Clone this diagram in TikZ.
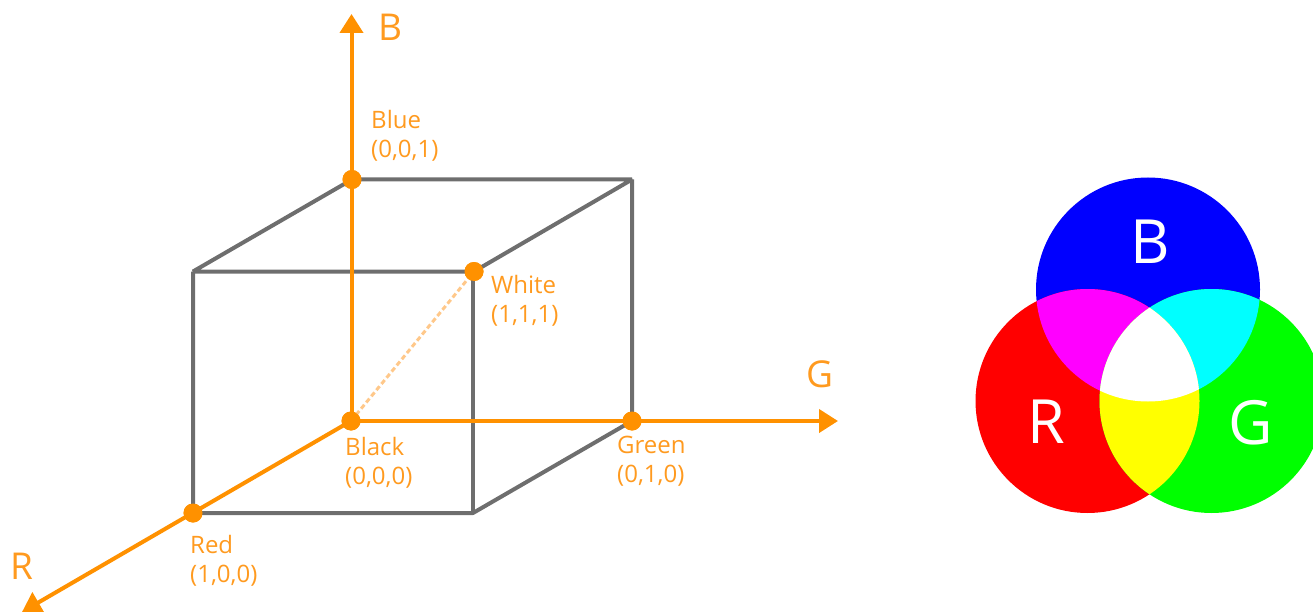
\documentclass[tikz,border=0pt]{standalone}
\usepackage{fontspec}
\setmainfont{Open Sans}
\usetikzlibrary{arrows.meta}
\definecolor{axisor}{HTML}{FF9100}
\definecolor{labelor}{HTML}{FF9A1F}
\definecolor{cubegr}{HTML}{6E6E6E}
\definecolor{diagor}{HTML}{FFC88A}
\definecolor{vblue}{RGB}{0,0,255}
\definecolor{vred}{RGB}{255,0,0}
\definecolor{vgreen}{RGB}{0,255,0}
\definecolor{vmagenta}{RGB}{255,0,255}
\definecolor{vcyan}{RGB}{0,255,255}
\definecolor{vyellow}{RGB}{255,255,0}
\tikzset{
  x=1pt,y=-1pt,
  dotpt/.style={circle,fill=axisor,inner sep=0pt,minimum size=19pt},
  cubeline/.style={draw=cubegr,line width=4pt,line cap=butt,line join=bevel},
  axisline/.style={draw=axisor,line width=4pt,-{Triangle[length=19pt,width=23pt]}},
  smalllab/.style={text=labelor,font=\fontsize{24}{29}\selectfont,align=left,anchor=north west,inner sep=0pt},
  axislab/.style={text=labelor,font=\fontsize{37}{40}\selectfont,inner sep=0pt},
  vennlab/.style={text=white,font=\fontsize{61}{66}\selectfont,inner sep=0pt},
}
\begin{document}
\begin{tikzpicture}
\useasboundingbox (0,0) rectangle (1313,612);
\clip (0,0) rectangle (1313,612);
% cube corners
\coordinate (ftl) at (193,271.5);
\coordinate (fbr) at (473,513);
\coordinate (btr) at (632,179.5);
\coordinate (bAxis) at (351.5,14);
\coordinate (gAxis) at (838,421);
\coordinate (rAxis) at (22,612);
\node[dotpt] (black) at (351,421) {};
\node[dotpt] (blue) at (352,179.5) {};
\node[dotpt] (green) at (632,421) {};
\node[dotpt] (red) at (193,513) {};
\node[dotpt] (white) at (474,271.5) {};
% cube edges
\draw[cubeline] (blue.center) -- (btr) -- (white.center) -- (ftl) -- cycle;
\draw[cubeline] (ftl) -- (red.center) -- (fbr) -- (green.center) -- (btr);
\draw[cubeline] (473,271.5) -- (fbr);
% diagonal
\draw[draw=diagor,line width=3pt,dash pattern=on 5pt off 3pt] (black.center) -- (white.center);
% axes
\draw[axisline] (351.5,421) -- (bAxis);
\draw[axisline] (black.center) -- (gAxis);
\draw[axisline] (black.center) -- (rAxis);
% redraw dots above lines
\node[dotpt] at (black) {};
\node[dotpt] at (blue) {};
\node[dotpt] at (green) {};
\node[dotpt] at (red) {};
\node[dotpt] at (white) {};
% labels
\node[axislab] (lb) at (390,27) {B};
\node[axislab] (lg) at (820,374) {G};
\node[axislab] (lr) at (22,566) {R};
\node[smalllab] (tblue) at (371,110) {Blue\\(0,0,1)};
\node[smalllab] (twhite) at (491,275) {White\\(1,1,1)};
\node[smalllab] (tblack) at (345,437) {Black\\(0,0,0)};
\node[smalllab] (tgreen) at (617,436) {Green\\(0,1,0)};
\node[smalllab] (tred) at (190,535) {Red\\(1,0,0)};
% colour circles
\def\cb{(1148,289.5) circle[radius=112]}
\def\cr{(1087.5,401) circle[radius=112]}
\def\cg{(1211.5,401) circle[radius=112]}
\fill[vblue] \cb;
\fill[vred] \cr;
\fill[vgreen] \cg;
\begin{scope}\clip \cb; \fill[vmagenta] \cr; \fill[vcyan] \cg; \end{scope}
\begin{scope}\clip \cr; \fill[vyellow] \cg; \end{scope}
\begin{scope}\clip \cb; \clip \cr; \fill[white] \cg; \end{scope}
\node[vennlab] (vb) at (1150,242) {B};
\node[vennlab] (vr) at (1046,422) {R};
\node[vennlab] (vg) at (1251,423) {G};
\end{tikzpicture}
\end{document}
